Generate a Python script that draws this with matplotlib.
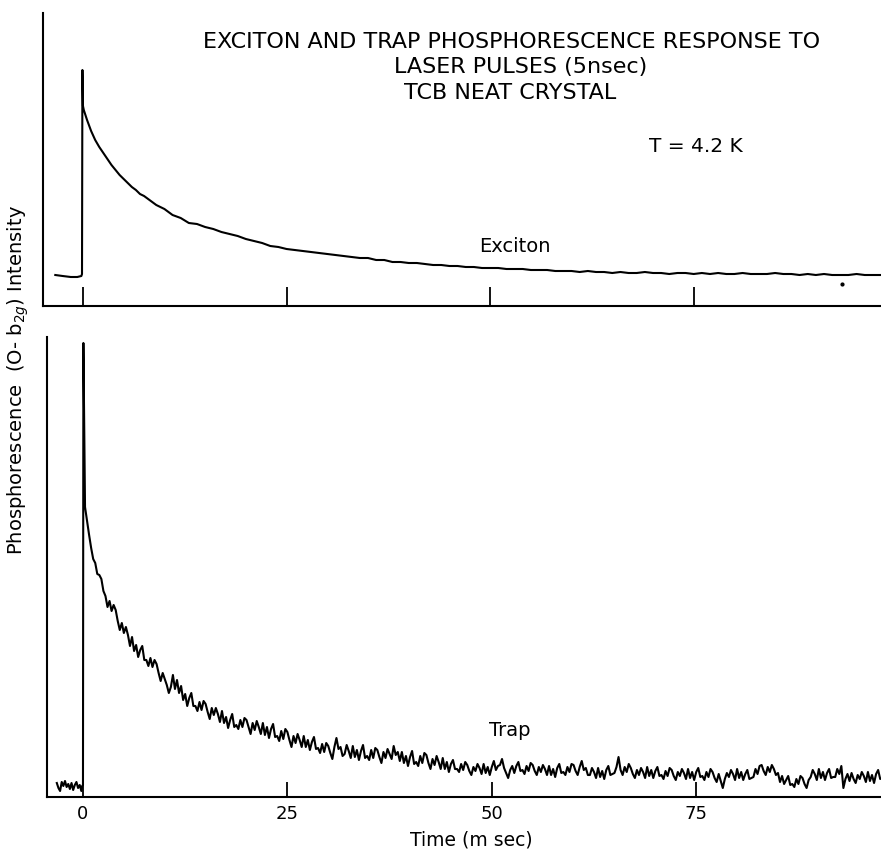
import numpy as np
import matplotlib
matplotlib.use('Agg')
import matplotlib.pyplot as plt

#-----
# data (arbitrary intensity units)
# exciton: pre-pulse baseline, laser spike, 0.5 msec samples up to 10 msec
exc_head_t = [-3.4, -2.5, -1.5, -0.7, -0.2, -0.12, -0.07, 0.0, 0.1,
              0.5, 1.0, 1.5, 2.0, 2.5, 3.0, 3.5, 4.0, 4.5, 5.0,
              5.5, 6.0, 6.5, 7.0, 7.5, 8.0, 8.5, 9.0, 9.5, 10.0]
exc_head_i = [31, 30, 29, 29, 30, 32, 236, 200, 196,
              186, 175, 166, 159, 153, 147, 141, 136, 131, 127,
              123, 119, 116, 112, 110, 107, 104, 101, 99, 97]
# exciton: 1 msec samples from 11 to 98 msec
exc_tail_t0, exc_tail_dt = 11.0, 1.0
exc_tail_i = [91, 88, 83, 82, 79, 77, 74, 72, 70, 67,
              65, 63, 60, 59, 57, 56, 55, 54, 53, 52,
              51, 50, 49, 48, 48, 46, 46, 44, 44, 43,
              43, 42, 41, 41, 40, 40, 39, 39, 38, 38,
              38, 37, 37, 37, 36, 36, 36, 35, 35, 35,
              34, 35, 34, 34, 33, 34, 33, 33, 34, 33,
              33, 32, 33, 33, 32, 33, 32, 33, 32, 32,
              33, 32, 32, 32, 33, 32, 32, 31, 32, 31,
              32, 31, 31, 31, 32, 31, 31, 31]

# trap: pre-pulse baseline and laser spike
trap_head_t = [-3.2, -3.0, -2.8, -2.6, -2.4, -2.2, -2.0, -1.8, -1.6, -1.4,
               -1.2, -1.0, -0.8, -0.6, -0.4, -0.2, -0.1, 0.0, 0.05, 0.25]
trap_head_i = [14, 9, 6, 15, 11, 16, 10, 13, 8, 14,
               7, 12, 15, 9, 12, 6, 11, 12, 454, 290]
# trap: 0.25 msec samples from 0.5 to 98 msec (one group of four per msec)
trap_tail_t0, trap_tail_dt = 0.5, 0.25
trap_tail_i = [276, 262,
               249, 238, 234, 223,  222, 218, 206, 201,  190, 196, 186, 192,   # 1-3
               187, 176, 167, 174,  164, 170, 162, 151,  160, 146, 152, 140,   # 4-6
               147, 151, 137, 137,  131, 139, 130, 137,  133, 124, 116, 124,   # 7-9
               118, 112, 104, 110,  122, 108, 117, 104,  111, 97, 103, 91,     # 10-12
               99, 104, 91, 91,     86, 95, 87, 96,      93, 85, 78, 89,       # 13-15
               82, 89, 83, 75,      86, 74, 80, 69,      77, 83, 70, 72,       # 16-18
               68, 77, 70, 79,      77, 70, 63, 74,      67, 76, 70, 63,       # 19-21
               74, 62, 70, 59,      68, 73, 60, 61,      56, 66, 58, 68,       # 22-24
               65, 57, 50, 61,      54, 63, 57, 50,      61, 50, 57, 47,       # 25-27
               55, 60, 48, 49,      44, 53, 45, 54,      51, 44, 38, 50,       # 28-30
               59, 48, 50, 41,      43, 52, 46, 39,      51, 40, 47, 37,       # 31-33
               46, 52, 39, 41,      37, 47, 39, 49,      47, 40, 34, 45,       # 34-36
               39, 48, 43, 38,      51, 42, 45, 36,      45, 34, 41, 31,       # 37-39
               40, 46, 33, 35,      31, 41, 34, 44,      42, 34, 28, 38,       # 40-42
               32, 41, 35, 28,      39, 28, 35, 25,      33, 37, 28, 28,       # 43-45
               25, 33, 27, 35,      32, 26, 22, 30,      26, 33, 29, 23,       # 46-48
               33, 24, 30, 22,      30, 36, 27, 31,      32, 38, 29, 24,       # 49-51
               19, 27, 31, 24,      31, 35, 26, 27,      23, 31, 26, 34,       # 52-54
               32, 26, 22, 30,      25, 32, 28, 22,      31, 22, 28, 20,       # 55-57
               29, 33, 24, 25,      22, 30, 25, 33,      32, 26, 22, 30,       # 58-60
               36, 27, 29, 22,      22, 29, 25, 19,      29, 20, 26, 18,       # 61-63
               27, 31, 22, 23,      24, 30, 40, 27,      22, 30, 25, 33,       # 64-66
               29, 23, 19, 27,      22, 29, 25, 19,      30, 21, 27, 19,       # 67-69
               26, 30, 21, 22,      18, 26, 21, 29,      27, 21, 17, 25,       # 70-72
               21, 28, 24, 18,      28, 19, 25, 17,      25, 29, 20, 21,       # 73-75
               17, 25, 20, 28,      25, 19, 15, 23,      16, 9, 18, 24,        # 76-78
               20, 27, 23, 17,      28, 19, 25, 17,      23, 27, 18, 19,       # 79-81
               20, 28, 23, 31,      32, 26, 22, 30,      25, 32, 28, 22,       # 82-84
               24, 15, 21, 13,      17, 21, 12, 13,      10, 18, 13, 21,       # 85-87
               19, 13, 9, 17,       20, 27, 23, 17,      28, 19, 25, 17,       # 88-90
               24, 28, 19, 20,      20, 28, 23, 31,      9, 18, 23, 16,        # 91-93
               24, 18, 14, 22,      18, 25, 21, 15,      25, 16, 22, 14,       # 94-96
               23, 27, 18, 19,                                                 # 97
               22]

tick_pos = [0, 25, 50, 75]
tick_labels = ['0', '25', '50', '75']

# stray speck on the top trace
speck_t, speck_i = [93.2], [22]

#-----
W, H = 881, 852
fig = plt.figure(figsize=(W / 100, H / 100), dpi=100)

def px_axes(x0, y0, x1, y1):
    # axes box from pixel corners (top-left origin)
    return fig.add_axes([x0 / W, 1 - y1 / H, (x1 - x0) / W, (y1 - y0) / H])

ax1 = px_axes(43, 13, 881, 306)
ax2 = px_axes(47, 337, 881, 797)

for a in (ax1, ax2):
    a.spines['top'].set_visible(False)
    a.spines['right'].set_visible(False)
    a.spines['left'].set_linewidth(1.5)
    a.spines['bottom'].set_linewidth(1.5)
    a.set_yticks([])
    a.set_xticks(tick_pos)
    a.patch.set_visible(False)

# top: exciton
exc_t = list(exc_head_t) + list(exc_tail_t0 + exc_tail_dt * np.arange(len(exc_tail_i)))
exc_i = list(exc_head_i) + list(exc_tail_i)
ax1.plot(exc_t, exc_i, color='black', lw=1.5)
ax1.scatter(speck_t, speck_i, color='black', s=4)
ax1.set_xlim(-4.91, 98.0)
ax1.set_ylim(0, 293)
ax1.tick_params(axis='x', direction='in', length=14, width=1.3, labelbottom=False)

# bottom: trap
trap_t = list(trap_head_t) + list(trap_tail_t0 + trap_tail_dt * np.arange(len(trap_tail_i)))
trap_i = list(trap_head_i) + list(trap_tail_i)
ax2.plot(trap_t, trap_i, color='black', lw=1.5)
ax2.set_xlim(-4.40, 97.6)
ax2.set_ylim(0, 460)
ax2.tick_params(axis='x', direction='in', length=11, width=1.3, pad=6, labelsize=13)
ax2.set_xticklabels(tick_labels)

# texts
def px_text(x, y, s, **kw):
    fig.text(x / W, 1 - y / H, s, ha='center', va='center', **kw)

px_text(512, 42, 'EXCITON AND TRAP PHOSPHORESCENCE RESPONSE TO', fontsize=16)
px_text(521, 67, 'LASER PULSES (5nsec)', fontsize=16)
px_text(510, 93, 'TCB NEAT CRYSTAL', fontsize=16)
px_text(696, 147, 'T = 4.2 K', fontsize=14.5)
px_text(515, 247, 'Exciton', fontsize=14)
px_text(510, 731, 'Trap', fontsize=14)
px_text(471, 840, 'Time (m sec)', fontsize=13.5)
px_text(18, 380, 'Phosphorescence  (O- b$_{2g}$) Intensity', fontsize=14, rotation=90)

plt.savefig('out.png', dpi=100)
